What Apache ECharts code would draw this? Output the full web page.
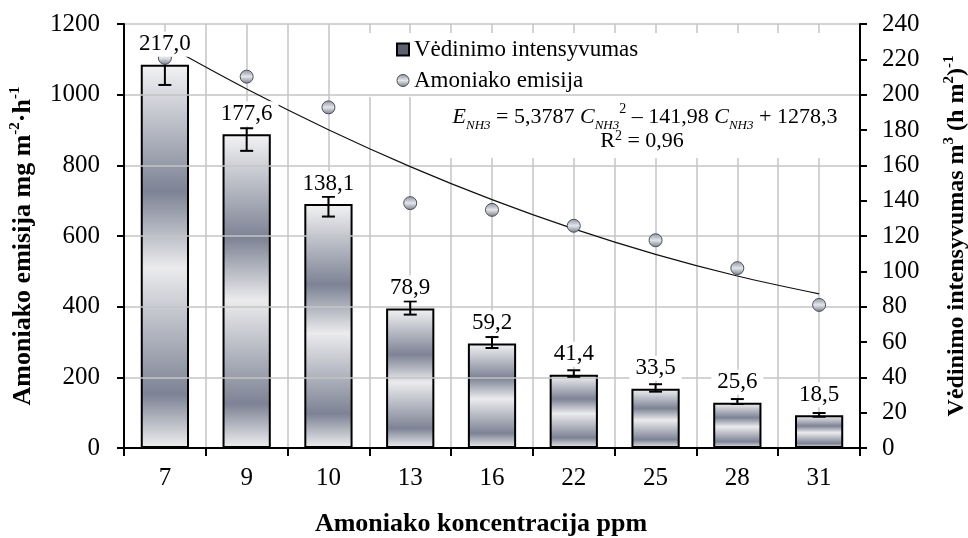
<!DOCTYPE html>
<html>
<head>
<meta charset="utf-8">
<script src="https://cdn.jsdelivr.net/npm/echarts@6/dist/echarts.min.js"></script>
<style>
  html, body { margin: 0; padding: 0; background: #fff; }
  #chart { width: 968px; height: 538px; }
</style>
</head>
<body>
<div id="chart"></div>
<script>
// Ammonia concentration categories (ppm)
const categories = ['7', '9', '10', '13', '16', '22', '25', '28', '31'];
// Ventilation rate, m3 (h m2)-1 (right axis)
const ventilation = [217.0, 177.6, 138.1, 78.9, 59.2, 41.4, 33.5, 25.6, 18.5];
// Error bar ends for ventilation rate
const ventLow = [205.5, 168.2, 131.0, 75.5, 56.6, 40.3, 31.9, 24.9, 17.7];
const ventHigh = [221.0, 181.0, 142.2, 83.0, 62.8, 44.0, 36.1, 27.7, 19.8];
// Ammonia emission, mg m-2 h-1 (left axis)
const emission = [1104, 1051, 964, 693, 674, 629, 588, 509, 405];
// Trend values of E = 5,3787 C^2 - 141,98 C + 1278,3 at C = 1..9
const trend = [1141.7, 1015.9, 900.8, 796.4, 702.9, 620.1, 548.0, 486.7, 436.2];
// Axis ticks
const leftTicks = { min: 0, max: 1200, step: 200 };
const rightTicks = { min: 0, max: 240, step: 20 };

const FONT = 'Liberation Serif';
const chart = echarts.init(document.getElementById('chart'), null, { renderer: 'canvas' });

const barFill = new echarts.graphic.LinearGradient(0, 0, 0, 1, [
  { offset: 0, color: '#f3f3f4' },
  { offset: 0.33, color: '#7d8395' },
  { offset: 0.53, color: '#ebebed' },
  { offset: 0.86, color: '#7d8395' },
  { offset: 1, color: '#f0f0f1' }
]);
const dotFill = new echarts.graphic.LinearGradient(0, 0, 0, 1, [
  { offset: 0, color: '#8a90a0' },
  { offset: 0.5, color: '#e4e6ea' },
  { offset: 1, color: '#737a8a' }
]);

const fmt = v => v.toFixed(1).replace('.', ',');
const supStyle = { fontFamily: FONT, fontSize: 15, fontWeight: 'bold', lineHeight: 15, verticalAlign: 'top', color: '#000' };

chart.setOption({
  animation: false,
  textStyle: { fontFamily: FONT, color: '#000' },
  grid: { left: 124, right: 108, top: 24, bottom: 90, containLabel: false, outerBoundsMode: 'none' },
  legend: {
    orient: 'vertical',
    left: 391,
    top: 33,
    itemGap: 8,
    itemWidth: 12,
    itemHeight: 12,
    textStyle: { fontFamily: FONT, fontSize: 23, color: '#000' },
    data: [
      { name: 'Vėdinimo intensyvumas', icon: 'rect', itemStyle: { color: '#5c6070', borderColor: '#000', borderWidth: 2 } },
      { name: 'Amoniako emisija', icon: 'circle', itemStyle: { color: dotFill, borderColor: '#4a4e58', borderWidth: 1 } }
    ]
  },
  xAxis: [
    {
      type: 'category',
      data: categories,
      boundaryGap: true,
      name: 'Amoniako koncentracija ppm',
      nameLocation: 'middle',
      nameGap: 63,
      nameTextStyle: { fontFamily: FONT, fontSize: 26, fontWeight: 'bold', color: '#000', padding: [0, 22, 0, 0] },
      axisLine: { lineStyle: { color: '#000', width: 2 } },
      axisTick: { show: true, length: 8, inside: false, lineStyle: { color: '#000', width: 2 } },
      axisLabel: { fontFamily: FONT, fontSize: 25, color: '#000', margin: 18 },
      splitLine: { show: false },
      z: 3
    },
    {
      // half-category grid lines
      type: 'value',
      min: 0, max: 18, interval: 1,
      show: true,
      axisLine: { show: false },
      axisTick: { show: false },
      axisLabel: { show: false },
      splitLine: { show: true, lineStyle: { color: '#c4c4c4', width: 1.5 } },
      z: 0
    }
  ],
  yAxis: [
    {
      type: 'value',
      min: leftTicks.min, max: leftTicks.max, interval: leftTicks.step,
      position: 'left',
      name: 'Amoniako emisija mg m{s|-2}·h{s|-1}',
      nameLocation: 'middle',
      nameRotate: 90,
      nameGap: 86,
      nameTextStyle: {
        fontFamily: FONT, fontSize: 26, fontWeight: 'bold', color: '#000', lineHeight: 30,
        padding: [0, 20, 0, 0],
        rich: { s: supStyle }
      },
      axisLine: { show: true, lineStyle: { color: '#000', width: 2 } },
      axisTick: { show: true, length: 7, lineStyle: { color: '#000', width: 2 } },
      axisLabel: { fontFamily: FONT, fontSize: 25, color: '#000', margin: 24, formatter: v => String(v) },
      splitLine: { show: true, lineStyle: { color: '#c4c4c4', width: 1.5 } },
      z: 3
    },
    {
      type: 'value',
      min: rightTicks.min, max: rightTicks.max, interval: rightTicks.step,
      position: 'right',
      name: 'Vėdinimo intensyvumas m{s|3} (h m{s|2}){s|-1}',
      nameLocation: 'middle',
      nameRotate: 90,
      nameGap: 82,
      nameTextStyle: {
        fontFamily: FONT, fontSize: 24, fontWeight: 'bold', color: '#000', lineHeight: 30,
        rich: { s: supStyle }
      },
      axisLine: { show: true, lineStyle: { color: '#000', width: 2 } },
      axisTick: { show: true, length: 7, lineStyle: { color: '#000', width: 2 } },
      axisLabel: { fontFamily: FONT, fontSize: 25, color: '#000', margin: 22, formatter: v => String(v) },
      splitLine: { show: false },
      z: 3
    }
  ],
  graphic: [
    {
      type: 'rect', z: 1,
      shape: { x: 342, y: 33, width: 513, height: 64 },
      style: { fill: '#fff' }, silent: true
    },
    {
      type: 'rect', z: 1,
      shape: { x: 440, y: 97, width: 415, height: 61 },
      style: { fill: '#fff' }, silent: true
    },
    {
      type: 'text', z: 10,
      x: 645, y: 117,
      style: {
        text: '{i|E}{sub|NH3}{n| = 5,3787 }{i|C}{sub|NH3}{sup|2}{n| – 141,98 }{i|C}{sub|NH3}{n| + 1278,3}',
        align: 'center', verticalAlign: 'middle',
        textAlign: 'center', textVerticalAlign: 'middle',
        fill: '#000',
        rich: {
          n: { fontFamily: FONT, fontSize: 22, lineHeight: 30, color: '#000' },
          i: { fontFamily: FONT, fontSize: 22, fontStyle: 'italic', lineHeight: 30, color: '#000' },
          sub: { fontFamily: FONT, fontSize: 13, fontStyle: 'italic', lineHeight: 13, verticalAlign: 'bottom', color: '#000' },
          sup: { fontFamily: FONT, fontSize: 14, lineHeight: 20, verticalAlign: 'top', color: '#000' }
        }
      }
    },
    {
      type: 'text', z: 10,
      x: 642, y: 141,
      style: {
        text: '{n|R}{sup|2}{n| = 0,96}',
        align: 'center', verticalAlign: 'middle',
        textAlign: 'center', textVerticalAlign: 'middle',
        fill: '#000',
        rich: {
          n: { fontFamily: FONT, fontSize: 22, lineHeight: 28, color: '#000' },
          sup: { fontFamily: FONT, fontSize: 14, lineHeight: 14, padding: [2, 0, 0, 0], verticalAlign: 'top', color: '#000' }
        }
      }
    }
  ],
  series: [
    {
      name: 'Vėdinimo intensyvumas',
      type: 'bar',
      xAxisIndex: 0,
      yAxisIndex: 1,
      data: ventilation,
      barWidth: '59%',
      itemStyle: { color: barFill, borderColor: '#000', borderWidth: 2 },
      z: 2
    },
    {
      name: 'errors',
      type: 'custom',
      xAxisIndex: 0,
      yAxisIndex: 1,
      data: categories.map((c, i) => [i, ventLow[i], ventHigh[i]]),
      encode: { x: 0, y: [1, 2] },
      renderItem: function (params, api) {
        const i = api.value(0);
        const lo = api.coord([i, api.value(1)]);
        const hi = api.coord([i, api.value(2)]);
        const cap = 6.5;
        const st = { stroke: '#000', lineWidth: 2 };
        return {
          type: 'group',
          children: [
            { type: 'line', shape: { x1: lo[0], y1: lo[1], x2: hi[0], y2: hi[1] }, style: st },
            { type: 'line', shape: { x1: lo[0] - cap, y1: lo[1], x2: lo[0] + cap, y2: lo[1] }, style: st },
            { type: 'line', shape: { x1: hi[0] - cap, y1: hi[1], x2: hi[0] + cap, y2: hi[1] }, style: st }
          ]
        };
      },
      silent: true,
      z: 3
    },
    {
      name: 'trend',
      type: 'line',
      xAxisIndex: 0,
      yAxisIndex: 0,
      data: trend,
      smooth: 0.35,
      symbol: 'none',
      lineStyle: { color: '#111', width: 1.2 },
      silent: true,
      z: 4
    },
    {
      name: 'Amoniako emisija',
      type: 'scatter',
      xAxisIndex: 0,
      yAxisIndex: 0,
      data: emission,
      symbol: 'circle',
      symbolSize: 13,
      itemStyle: { color: dotFill, borderColor: '#4a4e58', borderWidth: 1, opacity: 1 },
      z: 5
    },
    {
      // value labels drawn above every other mark
      name: 'labels',
      type: 'bar',
      xAxisIndex: 0,
      yAxisIndex: 1,
      data: ventilation,
      barWidth: '59%',
      barGap: '-100%',
      itemStyle: { color: 'rgba(0,0,0,0)', borderWidth: 0 },
      label: {
        show: true,
        position: 'top',
        distance: 8,
        formatter: p => fmt(p.value),
        fontFamily: FONT,
        fontSize: 23,
        color: '#000',
        backgroundColor: '#fff',
        padding: [1, 6]
      },
      silent: true,
      z: 10
    }
  ]
});
</script>
</body>
</html>
